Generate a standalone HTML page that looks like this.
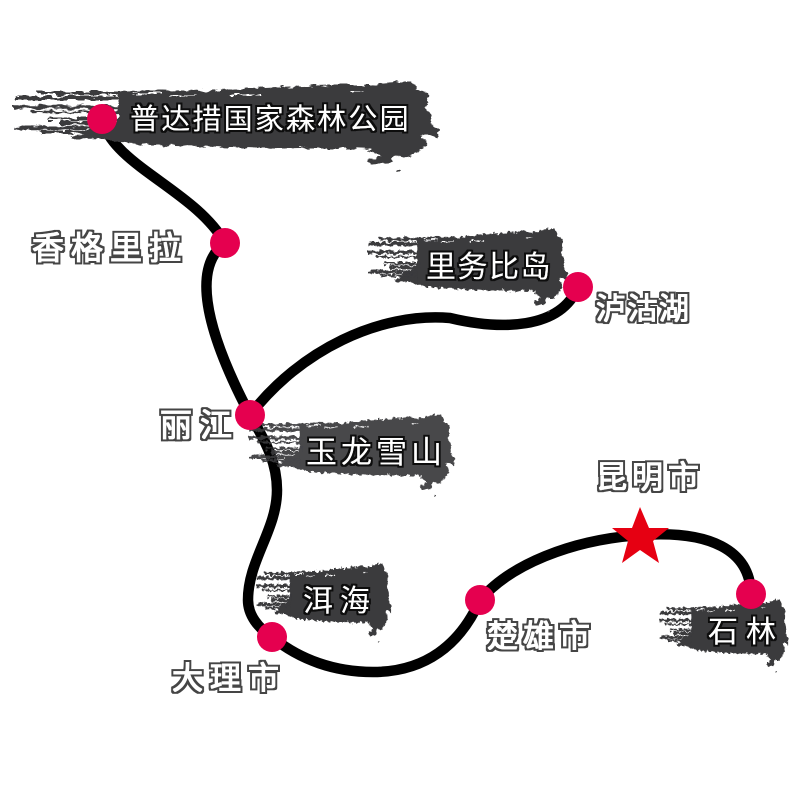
<!DOCTYPE html>
<html><head><meta charset="utf-8"><style>
html,body{margin:0;padding:0;background:#fff}
svg{display:block}
text{font-family:"Liberation Sans","WenQuanYi Zen Hei","Noto Sans CJK SC",sans-serif;fill:#fff}
.o{filter:url(#to)}
.i{filter:url(#ti)}
</style></head><body>
<svg width="800" height="800" viewBox="0 0 800 800" xmlns="http://www.w3.org/2000/svg">
<defs>
<filter id="rough" x="-5%" y="-15%" width="110%" height="130%">
<feTurbulence type="fractalNoise" baseFrequency="0.09 0.22" numOctaves="3" seed="4"/>
<feDisplacementMap in="SourceGraphic" scale="7" xChannelSelector="R" yChannelSelector="G"/>
<feGaussianBlur stdDeviation="0.35"/>
</filter>
<filter id="to" x="-10%" y="-20%" width="120%" height="140%">
<feMorphology in="SourceAlpha" operator="dilate" radius="2.6" result="d"/>
<feFlood flood-color="#454545"/><feComposite in2="d" operator="in" result="ol"/>
<feMorphology in="SourceGraphic" operator="dilate" radius="0.4" result="w"/>
<feMerge><feMergeNode in="ol"/><feMergeNode in="w"/></feMerge>
</filter>
<filter id="ti" x="-10%" y="-20%" width="120%" height="140%">
<feMorphology in="SourceAlpha" operator="dilate" radius="1.8" result="d"/>
<feFlood flood-color="#111"/><feComposite in2="d" operator="in" result="ol"/>
<feMerge><feMergeNode in="ol"/><feMergeNode in="SourceGraphic"/></feMerge>
</filter>
<g id="b">
<g fill="#3a3a3c">
<path d="M118,92 L160,90 205,91 250,88 330,85 372,85 398,82 412,82 420,90 428,95 426,106 432,118 430,124 438,130 438,139 428,134 420,136 428,144 420,150 412,155 395,158 388,164 370,165 368,160 382,157 372,150 350,149 310,149 300,147 260,148 200,146 150,145 120,142 95,138 78,133 100,128 118,122 118,100 Z"/>
<circle cx="398" cy="170" r="1.5"/>
</g>
<g fill="none" stroke="#3a3a3c">
<path d="M16,98 H125" stroke-width="4"/>
<path d="M38,93 H120" stroke-width="3"/>
<path d="M14,107 H125" stroke-width="3.5"/>
<path d="M30,112 H120" stroke-width="2.2"/>
<path d="M48,119 H125" stroke-width="3"/>
<path d="M60,123 H125" stroke-width="3"/>
<path d="M14,128 H120" stroke-width="3.5"/>
<path d="M40,132 H120" stroke-width="3"/>
<path d="M70,137 H120" stroke-width="3.5"/>
</g>
<path d="M132,94 h30 M170,96 h25 M230,95 h30 M350,92 h15" stroke="#fff" stroke-width="1" fill="none"/>
</g>
<g id="bf" filter="url(#rough)"><use href="#b"/></g>
</defs>
<g fill="none" stroke="#000" stroke-width="10.5" stroke-linecap="round">
<path d="M102,119 C112,165 195,190 225,243 C195,265 200,320 250,415 C268,445 277,465 277,490 C277,530 248,560 248,600 C248,615 258,628 272,637 C300,660 335,672 373,672 C425,672 460,645 480,600 C510,565 570,540 640,535 C710,530 750,550 751,594"/>
<path d="M250,415 C300,350 380,312 450,318 C500,330 560,330 578,287"/>
</g>
<use href="#bf"/>
<use href="#bf" transform="translate(361.4,152.7) scale(.47,.93)"/>
<use href="#bf" transform="translate(242.2,340.4) scale(.484,.91)" opacity=".93"/>
<use href="#bf" transform="translate(252.2,492) scale(.317,.878)"/>
<use href="#bf" transform="translate(655.4,533.6) scale(.303,.81)"/>
<g fill="#e5004f">
<circle cx="102" cy="119" r="15"/><circle cx="225" cy="243" r="15"/><circle cx="578" cy="287" r="15"/>
<circle cx="250" cy="415" r="15"/><circle cx="272" cy="637" r="15"/><circle cx="480" cy="600" r="15"/><circle cx="751" cy="594" r="15"/>
</g>
<polygon points="640,507 649,528 669,528 653,541 659,563 640,550 622,563 628,541 612,528 632,528" fill="#e60012"/>
<text class="i" x="130" y="129" font-size="29" letter-spacing="2.2">普达措国家森林公园</text>
<text class="o" x="32" y="259" font-size="32" letter-spacing="7">香格里拉</text>
<text class="i" x="426" y="277" font-size="30" letter-spacing="1.5">里务比岛</text>
<text class="o" x="596" y="319" font-size="30" letter-spacing="1.5">泸沽湖</text>
<text class="o" x="160" y="436" font-size="32" letter-spacing="8">丽江</text>
<text class="i" x="306" y="463" font-size="31" letter-spacing="4">玉龙雪山</text>
<text class="o" x="596" y="488" font-size="31" letter-spacing="5">昆明市</text>
<text class="i" x="303" y="611" font-size="30" letter-spacing="7">洱海</text>
<text class="o" x="487" y="647" font-size="31" letter-spacing="5">楚雄市</text>
<text class="i" x="708" y="642" font-size="30" letter-spacing="8">石林</text>
<text class="o" x="172" y="689" font-size="31" letter-spacing="7">大理市</text>
</svg>
</body></html>
